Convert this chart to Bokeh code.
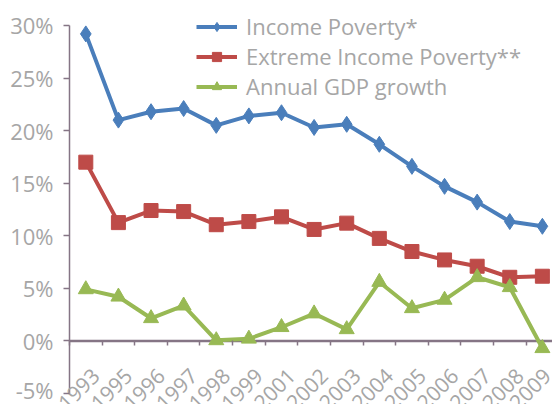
import math
from bokeh.plotting import figure
from bokeh.models import (FixedTicker, PrintfTickFormatter, Range1d, Legend,
                          LegendItem, ColumnDataSource)
from bokeh.embed import file_html
from bokeh.resources import INLINE

years = ["1993", "1995", "1996", "1997", "1998", "1999", "2001", "2002",
         "2003", "2004", "2005", "2006", "2007", "2008", "2009"]
income_poverty = [29.2, 21.0, 21.8, 22.1, 20.5, 21.4, 21.7, 20.3,
                  20.6, 18.7, 16.6, 14.7, 13.2, 11.35, 10.9]
extreme_poverty = [17.0, 11.25, 12.4, 12.3, 11.05, 11.35, 11.8, 10.6,
                   11.2, 9.75, 8.5, 7.7, 7.1, 6.05, 6.15]
gdp_growth = [4.9, 4.2, 2.15, 3.35, 0.05, 0.2, 1.3, 2.6,
              1.1, 5.6, 3.1, 3.9, 6.05, 5.1, -0.7]
y_ticks = [-5, 0, 5, 10, 15, 20, 25, 30]

names = ["Income Poverty*", "Extreme Income Poverty**", "Annual GDP growth"]
colors = ["#4a7ebb", "#be4b48", "#98b954"]
markers = ["diamond", "square", "triangle"]
msizes = [16, 14, 15]
series = [income_poverty, extreme_poverty, gdp_growth]

FONT = "Open Sans"
GREY = "#a6a6a6"
AXIS = "#857585"
LABEL_SHIFT = 0.3

W, H = 552, 404
AXIS_PX = 69          # pixel position of the y axis inside the figure
xs = list(range(1, len(years) + 1))
x_axis_pos = 0.5
x_end = len(years) + LABEL_SHIFT + 0.01
x_start = x_axis_pos - AXIS_PX * (x_end - x_axis_pos) / (W - AXIS_PX)

p = figure(width=W, height=H, output_backend="svg", toolbar_location=None,
           x_range=Range1d(x_start, x_end), y_range=Range1d(-6.05, 31.52),
           min_border_left=0, min_border_right=0, min_border_top=9,
           min_border_bottom=0)
p.outline_line_color = None
p.xgrid.visible = False
p.ygrid.visible = False
p.background_fill_color = "white"

# axis lines: y from lowest to highest tick, x from the y axis rightwards
p.segment(x0=[x_axis_pos], y0=[y_ticks[0]], x1=[x_axis_pos], y1=[y_ticks[-1]],
          line_color=AXIS, line_width=1.5)
p.segment(x0=[x_axis_pos], y0=[0], x1=[x_end], y1=[0],
          line_color=AXIS, line_width=2.5)

items = []
for name, col, mk, ms, vals in zip(names, colors, markers, msizes, series):
    src = ColumnDataSource(dict(x=xs, y=vals))
    lr = p.line("x", "y", source=src, line_color=col, line_width=4)
    sr = p.scatter("x", "y", source=src, marker=mk, size=ms,
                   fill_color=col, line_color=col)
    items.append(LegendItem(label=name, renderers=[lr, sr]))

legend = Legend(items=items, location=(AXIS_PX + 127, 303), orientation="vertical",
                background_fill_alpha=0, border_line_color=None,
                label_text_font=FONT, label_text_font_size="22px",
                label_text_color=GREY, glyph_width=41, glyph_height=23,
                label_standoff=9, spacing=-3, padding=0, margin=0,
                label_height=23)
p.add_layout(legend, "center")

# x axis at y = 0, category boundaries as minor ticks
xa = p.xaxis[0]
xa.fixed_location = 0
xa.ticker = FixedTicker(ticks=[x + LABEL_SHIFT for x in xs],
                        minor_ticks=[x + 0.5 for x in range(0, len(years) + 1)])
xa.major_label_overrides = {x + LABEL_SHIFT: y for x, y in zip(xs, years)}
xa.major_label_orientation = math.pi / 4
xa.major_tick_out = 0
xa.major_tick_in = 0
xa.minor_tick_out = 5
xa.minor_tick_in = 0
xa.minor_tick_line_color = AXIS
xa.minor_tick_line_width = 1.5
xa.axis_line_color = None
xa.major_label_text_font = FONT
xa.major_label_text_font_size = "21px"
xa.major_label_text_color = GREY
xa.major_label_standoff = 26

# y axis drawn at x = 0.5 inside the frame
ya = p.yaxis[0]
ya.fixed_location = x_axis_pos
ya.ticker = FixedTicker(ticks=y_ticks)
ya.formatter = PrintfTickFormatter(format="%d%%")
ya.minor_tick_line_color = None
ya.major_tick_out = 6
ya.major_tick_in = 0
ya.major_tick_line_color = AXIS
ya.major_tick_line_width = 1.5
ya.axis_line_color = None
ya.major_label_text_font = FONT
ya.major_label_text_font_size = "22px"
ya.major_label_text_color = GREY
ya.major_label_standoff = 10

open("out.html", "w").write(file_html(p, INLINE))
